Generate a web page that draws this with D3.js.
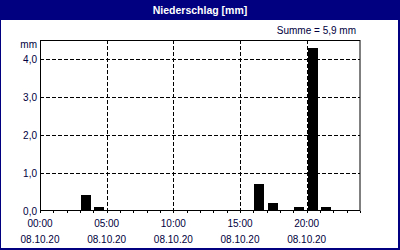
<!DOCTYPE html>
<html><head><meta charset="utf-8">
<script src="https://cdn.jsdelivr.net/npm/d3@7/dist/d3.min.js"></script>
<style>html,body{margin:0;padding:0;background:#fff;overflow:hidden}</style>
</head><body>
<script>
const title = "Niederschlag [mm]";
const sumLabel = "Summe = 5,9 mm";
const unitLabel = "mm";
const hours = [0,1,2,3,4,5,6,7,8,9,10,11,12,13,14,15,16,17,18,19,20,21,22,23];
const values = [0,0,0,0.4,0.1,0,0,0,0,0,0,0,0,0,0,0,0.7,0.2,0,0.1,4.3,0.1,0,0];
const yTicks = [0,1,2,3,4];
const yTickLabels = ["0,0","1,0","2,0","3,0","4,0"];
const xTicks = [0,5,10,15,20];
const xTimeLabels = ["00:00","05:00","10:00","15:00","20:00"];
const xDateLabels = ["08.10.20","08.10.20","08.10.20","08.10.20","08.10.20"];

const W = 400, H = 250;
const navy = "#000080", txt = "#000040";
const font = "'Liberation Sans', Arial, sans-serif";
const svg = d3.select("body").append("svg").attr("width", W).attr("height", H)
  .style("font-family", font);

svg.append("rect").attr("width", W).attr("height", H).attr("fill", navy);
svg.append("rect").attr("x", 1).attr("y", 20).attr("width", W - 3).attr("height", H - 22).attr("fill", "#fff");
svg.append("text").attr("x", 200).attr("y", 14).attr("text-anchor", "middle")
  .attr("fill", "#fff").attr("font-weight", "bold").attr("font-size", 10.5).text(title);

const x = d3.scaleLinear().domain([0, 24]).range([40, 360]);
const y = d3.scaleLinear().domain([0, 4.5]).range([210.5, 40.5]);

// grid
const g = svg.append("g");
g.selectAll(".hg").data(yTicks.filter(d => d > 0)).enter().append("line")
  .attr("x1", 40).attr("x2", 360).attr("y1", d => Math.round(y(d)) + 0.5).attr("y2", d => Math.round(y(d)) + 0.5)
  .attr("stroke", "#000").attr("stroke-dasharray", "4,2");
g.selectAll(".vg").data(xTicks.filter(d => d > 0)).enter().append("line")
  .attr("y1", 40).attr("y2", 211).attr("x1", d => Math.round(x(d)) + 0.5).attr("x2", d => Math.round(x(d)) + 0.5)
  .attr("stroke", "#000").attr("stroke-dasharray", "4,2");

// bars
svg.selectAll(".bar").data(hours.map((h, i) => ({h, v: values[i]})).filter(d => d.v > 0)).enter().append("rect")
  .attr("x", d => Math.round(x(d.h)) + 1).attr("width", 10)
  .attr("y", d => Math.round(y(d.v))).attr("height", d => 211 - Math.round(y(d.v)))
  .attr("fill", "#000");

// frame
svg.append("rect").attr("x", 40.5).attr("y", 40.5).attr("width", 319.5).attr("height", 170)
  .attr("fill", "none").attr("stroke", "#000");

// x minor ticks
svg.selectAll(".xt").data(d3.range(0, 25)).enter().append("line")
  .attr("x1", d => Math.round(x(d)) + 0.5).attr("x2", d => Math.round(x(d)) + 0.5)
  .attr("y1", 211).attr("y2", 213).attr("stroke", "#000");

// y labels
svg.selectAll(".yl").data(yTicks).enter().append("text")
  .attr("x", 37).attr("y", d => y(d) + 4).attr("text-anchor", "end")
  .attr("font-size", 10).attr("fill", txt).text((d, i) => yTickLabels[i]);
svg.append("text").attr("x", 37).attr("y", 48).attr("text-anchor", "end")
  .attr("font-size", 10).attr("fill", txt).text(unitLabel);

// x labels
svg.selectAll(".xl").data(xTicks).enter().append("text")
  .attr("x", d => x(d)).attr("y", 227).attr("text-anchor", "middle")
  .attr("font-size", 10).attr("fill", txt).text((d, i) => xTimeLabels[i]);
svg.selectAll(".xd").data(xTicks).enter().append("text")
  .attr("x", d => x(d)).attr("y", 243).attr("text-anchor", "middle")
  .attr("font-size", 10).attr("fill", txt).text((d, i) => xDateLabels[i]);

svg.append("text").attr("x", 356).attr("y", 34).attr("text-anchor", "end")
  .attr("font-size", 10).attr("fill", txt).text(sumLabel);
</script>
</body></html>
